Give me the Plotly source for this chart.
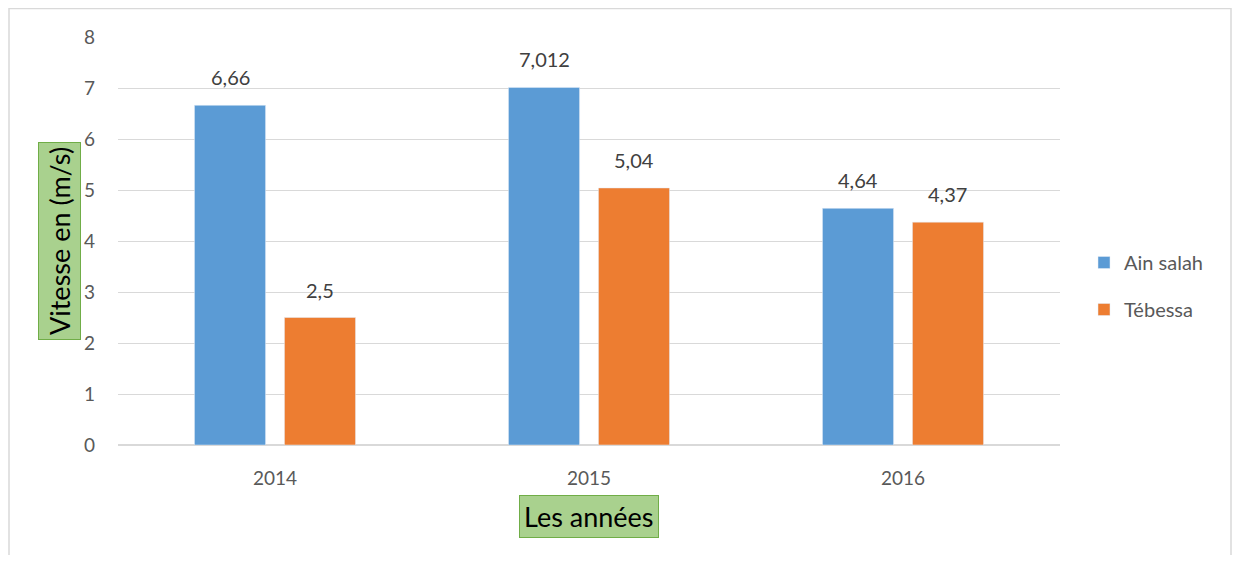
import plotly.graph_objects as go

years = ["2014", "2015", "2016"]
ain_salah = [6.66, 7.012, 4.64]
tebessa = [2.5, 5.04, 4.37]
y_ticks = [0, 1, 2, 3, 4, 5, 6, 7, 8]

font_family = "Lato, 'Open Sans', sans-serif"

# page is drawn with an 8px body margin, so work in figure pixels
OFF = 8
W, H = 1224, 547
ml, mr, mt, mb = 110, 172, 29, 110
pw, ph = W - ml - mr, H - mt - mb

bargap = 0.427
bargroupgap = 0.21


def px_x(p):
    return (p - OFF - ml) / pw


def px_y(p):
    return (H - mb - (p - OFF)) / ph


def fmt(v):
    return f"{v:g}".replace(".", ",")


fig = go.Figure()

fig.add_trace(go.Bar(
    x=years,
    y=ain_salah,
    name="Ain salah",
    legendgroup="a",
    marker=dict(color="#5b9bd5")
))

fig.add_trace(go.Bar(
    x=years,
    y=tebessa,
    name="Tébessa",
    legendgroup="b",
    marker=dict(color="#ed7d31")
))

# data labels, offset to the centre of each bar in the group
# (category axis: annotation x is the category index)
slot = (1 - bargap) * (pw / len(years)) / 2
labels = []
for series, shift in [(ain_salah, -slot / 2), (tebessa, slot / 2)]:
    for i, val in enumerate(series):
        labels.append(dict(
            x=i, y=val, xref="x", yref="y",
            text=fmt(val),
            showarrow=False,
            xshift=shift,
            yshift=28,
            yanchor="middle",
            font=dict(size=20, color="#404040")
        ))

fig.update_layout(
    width=W,
    height=H,
    margin=dict(l=ml, r=mr, t=mt, b=mb),
    plot_bgcolor="white",
    paper_bgcolor="white",
    font=dict(family=font_family, color="#595959"),
    barmode="group",
    bargap=bargap,
    bargroupgap=bargroupgap,
    xaxis=dict(
        type="category",
        range=[-0.5, len(years) - 0.5],
        showgrid=False,
        showline=False,
        ticks="",
        tickfont=dict(size=19, color="#595959"),
        ticklabelstandoff=20
    ),
    yaxis=dict(
        range=[0, 8],
        tickvals=y_ticks,
        showgrid=True,
        gridcolor="#d9d9d9",
        gridwidth=1,
        zeroline=True,
        zerolinecolor="#d9d9d9",
        showline=False,
        ticks="",
        tickfont=dict(size=19, color="#595959"),
        ticklabelstandoff=22
    ),
    legend=dict(
        x=px_x(1084),
        y=px_y(286),
        xanchor="left",
        yanchor="middle",
        font=dict(size=20, color="#595959"),
        traceorder="grouped",
        tracegroupgap=18,
        itemwidth=30
    ),
    shapes=[
        dict(
            type="rect", xref="paper", yref="paper",
            x0=px_x(9), x1=px_x(1231), y0=px_y(570), y1=px_y(8.5),
            line=dict(color="#d9d9d9", width=1.5),
            layer="below"
        )
    ],
    annotations=labels + [
        dict(
            text="Vitesse en (m/s)",
            xref="paper", yref="paper",
            x=px_x(59), y=px_y(241),
            xanchor="center", yanchor="middle",
            showarrow=False,
            textangle=-90,
            font=dict(size=27, color="black"),
            bgcolor="#a9d18e",
            bordercolor="#70ad47",
            borderwidth=1,
            borderpad=4
        ),
        dict(
            text="Les années",
            xref="paper", yref="paper",
            x=px_x(589), y=px_y(516),
            xanchor="center", yanchor="middle",
            showarrow=False,
            font=dict(size=27, color="black"),
            bgcolor="#a9d18e",
            bordercolor="#70ad47",
            borderwidth=1,
            borderpad=4
        )
    ]
)

fig.write_html("out.html")
